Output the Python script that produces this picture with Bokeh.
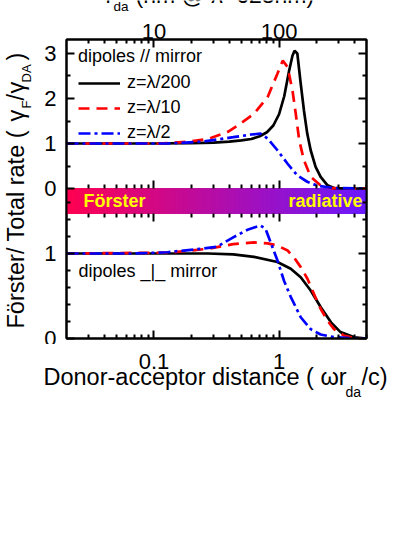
import numpy as np
from bokeh.plotting import figure
from bokeh.layouts import row, column
from bokeh.models import (Range1d, LogAxis, LinearAxis, FixedTicker, CustomJSTickFormatter,
                          Label, Legend, LegendItem, LogScale)
from bokeh.embed import file_html
from bokeh.resources import INLINE

# ---------------- data ----------------
# x = omega * r_da / c ; y = Förster / total rate
# upper panel: dipoles parallel to mirror
par_200_x = [0.02, 0.1, 0.2, 0.3, 0.4, 0.5, 0.6, 0.7, 0.8, 0.9, 1.0, 1.1, 1.2, 1.28, 1.33,
             1.4, 1.49, 1.58, 1.68, 1.79, 1.96, 2.15, 2.44, 2.75, 3.5, 5.0]
par_200_y = [1.0, 1.0, 1.01, 1.02, 1.04, 1.07, 1.1, 1.16, 1.25, 1.4, 1.65, 2.05, 2.6, 2.95, 3.06,
             3.0, 2.33, 1.74, 1.22, 0.85, 0.48, 0.26, 0.07, 0.01, 0.0, 0.0]
par_10_x = [0.02, 0.11, 0.19, 0.27, 0.39, 0.49, 0.63, 0.81, 0.97, 1.07, 1.17, 1.28, 1.36, 1.45,
            1.58, 1.79, 2.15, 2.6, 5.0]
par_10_y = [1.0, 1.0, 1.04, 1.1, 1.26, 1.44, 1.66, 2.03, 2.55, 2.84, 2.7, 2.18, 1.66, 1.07,
            0.63, 0.26, 0.07, 0.01, 0.0]
par_2_x = [0.02, 0.13, 0.24, 0.43, 0.6, 0.71, 0.81, 0.97, 1.17, 1.40, 1.68, 2.04, 2.75, 5.0]
par_2_y = [1.0, 1.0, 1.04, 1.14, 1.2, 1.22, 1.11, 0.85, 0.55, 0.29, 0.15, 0.06, 0.01, 0.0]

# lower panel: dipoles perpendicular to mirror
perp_200_x = [0.02, 0.27, 0.43, 0.63, 0.97, 1.24, 1.49, 1.79, 2.15, 2.6, 3.1, 4.0, 5.0]
perp_200_y = [1.0, 1.0, 0.99, 0.96, 0.9, 0.82, 0.72, 0.565, 0.37, 0.19, 0.075, 0.015, 0.0]
perp_10_x = [0.02, 0.13, 0.27, 0.43, 0.63, 0.81, 0.97, 1.17, 1.31, 1.49, 1.69, 1.9, 2.15,
             2.44, 2.75, 3.3, 4.0, 5.0]
perp_10_y = [1.0, 1.01, 1.055, 1.11, 1.13, 1.12, 1.094, 1.035, 0.957, 0.84, 0.7, 0.525, 0.35,
             0.21, 0.11, 0.035, 0.005, 0.0]
perp_2_x = [0.02, 0.07, 0.128, 0.236, 0.32, 0.43, 0.56, 0.71, 0.78, 0.857, 0.97, 1.095, 1.24,
            1.49, 1.79, 2.15, 2.75, 3.74, 5.0]
perp_2_y = [1.0, 1.0, 1.015, 1.055, 1.08, 1.19, 1.28, 1.33, 1.29, 1.13, 0.92, 0.68, 0.49,
            0.25, 0.11, 0.047, 0.015, 0.003, 0.0]

series_labels = ["z=λ/200", "z=λ/10", "z=λ/2"]

x_major = [0.1, 1.0]
x_minor = [0.03, 0.04, 0.05, 0.06, 0.07, 0.08, 0.09,
           0.2, 0.3, 0.4, 0.5, 0.6, 0.7, 0.8, 0.9, 2.0, 3.0, 4.0, 5.0]
nm_major = [10, 100]
nm_minor = [3, 4, 5, 6, 7, 8, 9, 20, 30, 40, 50, 60, 70, 80, 90, 200, 300, 400, 500]
up_major = [0, 1, 2, 3]
up_minor = [0.5, 1.5, 2.5]
low_major = [0, 1]
low_minor = [0.2, 0.4, 0.6, 0.8, 1.2, 1.4, 1.6]

WAVELENGTH_NM = 628.0

# ---------------- layout constants (page pixels) ----------------
FONT = "Liberation Sans"
X_LO, X_HI = 0.02, 5.0
UP_LO, UP_HI = -3.333, 3.311      # upper panel units over the whole frame
LOW_LO, LOW_HI = 0.0, 3.518       # lower panel units over the whole frame
BAR_BOTTOM = -0.556               # bar spans [BAR_BOTTOM, 0] in upper units
COL_L, COL_W = 38, 358            # left column (y title) width, main column width
FRAME_L, FRAME_W, FRAME_H = 66, 300, 299
TOP_H = 13                        # strip for the top title
MAIN_TOP_BORDER = 26
MAIN_BOTTOM_BORDER = 6
XLAB_Y0 = TOP_H + MAIN_TOP_BORDER + FRAME_H + MAIN_BOTTOM_BORDER
XLAB_H = 70
XLAB_BOTTOM = XLAB_Y0 + XLAB_H


def low_to_up(v):
    return UP_LO + (v - LOW_LO) / (LOW_HI - LOW_LO) * (UP_HI - UP_LO)


def blank_fig(w, h, **kw):
    f = figure(frame_width=w, frame_height=h, min_border=0, toolbar_location=None,
               output_backend="svg", x_axis_location=None, y_axis_location=None, **kw)
    f.frame_align = False
    f.xgrid.visible = False
    f.ygrid.visible = False
    f.outline_line_color = None
    return f


def lab(fig, text, x, y, size, **kw):
    fig.add_layout(Label(x=x, y=y, text=text, text_font=FONT, text_font_size=size,
                         text_color=kw.pop("color", "black"), **kw))


nm_per_unit = WAVELENGTH_NM / (2 * np.pi)

# ---------------- main figure ----------------
p = figure(x_axis_type="log", x_range=Range1d(X_LO, X_HI), y_range=Range1d(UP_LO, UP_HI),
           frame_width=FRAME_W, frame_height=FRAME_H,
           min_border_left=FRAME_L - COL_L, min_border_right=COL_W - (FRAME_L - COL_L) - FRAME_W,
           min_border_top=MAIN_TOP_BORDER, min_border_bottom=MAIN_BOTTOM_BORDER,
           toolbar_location=None, output_backend="svg")
p.frame_align = False
p.extra_y_ranges = {"low": Range1d(LOW_LO, LOW_HI)}
p.extra_x_ranges = {"nm": Range1d(X_LO * nm_per_unit, X_HI * nm_per_unit)}
p.extra_x_scales = {"nm": LogScale()}
p.xgrid.visible = False
p.ygrid.visible = False
p.outline_line_color = "black"
p.outline_line_width = 2

# gradient bar
edges = np.logspace(np.log10(X_LO), np.log10(X_HI), 151)
c0 = np.array([255, 0, 80])
c1 = np.array([105, 25, 255])
t = (np.arange(len(edges) - 1) + 0.5) / (len(edges) - 1)
bar_colors = ["#%02x%02x%02x" % tuple(int(round(v)) for v in (c0 + (c1 - c0) * ti)) for ti in t]
p.quad(left=edges[:-1], right=edges[1:], bottom=BAR_BOTTOM, top=0,
       fill_color=bar_colors, line_color=bar_colors, line_width=1)

# curves
LW = 2.7
styles = [dict(line_color="black"),
          dict(line_color="#ff0000", line_dash="11 7"),
          dict(line_color="#0000ff", line_dash="12 4 3 4")]
upper = [(par_200_x, par_200_y), (par_10_x, par_10_y), (par_2_x, par_2_y)]
lower = [(perp_200_x, perp_200_y), (perp_10_x, perp_10_y), (perp_2_x, perp_2_y)]
rs = []
for (xs, ys), st in zip(upper, styles):
    rs.append(p.line(xs, ys, line_width=LW, **st))
for (xs, ys), st in zip(lower, styles):
    p.line(xs, ys, line_width=LW, y_range_name="low", **st)

legend = Legend(items=[LegendItem(label=l, renderers=[r]) for l, r in zip(series_labels, rs)],
                title="dipoles // mirror", location=(12, 195),
                title_text_font=FONT, title_text_font_size="18px", title_text_font_style="normal",
                title_text_color="black", title_standoff=5,
                label_text_font=FONT, label_text_font_size="18px", label_text_color="black",
                glyph_width=42, glyph_height=20, label_height=20, label_standoff=7,
                spacing=4, padding=0, margin=0,
                border_line_color=None, background_fill_alpha=0)
p.add_layout(legend)

blank_fmt = CustomJSTickFormatter(code="return '';")
str_fmt = CustomJSTickFormatter(code="return String(tick);")


def style_axis(ax, labels=True):
    ax.major_tick_in = 8
    ax.major_tick_out = 0
    ax.minor_tick_in = 4
    ax.minor_tick_out = 0
    ax.major_tick_line_width = 2
    ax.minor_tick_line_width = 2
    ax.major_tick_line_color = "black"
    ax.minor_tick_line_color = "black"
    ax.axis_line_width = 2
    ax.axis_line_color = "black"
    ax.major_label_text_font = FONT
    ax.major_label_text_color = "black"
    if labels:
        ax.major_label_text_font_size = "22px"
    else:
        ax.formatter = blank_fmt
        ax.major_label_text_font_size = "1px"
        ax.major_label_standoff = 0


bx = p.xaxis[0]
bx.ticker = FixedTicker(ticks=x_major, minor_ticks=x_minor)
style_axis(bx, labels=False)

top = LogAxis(x_range_name="nm", ticker=FixedTicker(ticks=nm_major, minor_ticks=nm_minor),
              formatter=str_fmt)
style_axis(top)
top.major_label_standoff = 1
p.add_layout(top, "above")

y_ticks = list(up_major) + [low_to_up(v) for v in low_major]
y_labels = [str(v) for v in up_major] + [str(v) for v in low_major]
y_minor = list(up_minor) + [low_to_up(v) for v in low_minor]
ly = p.yaxis[0]
ly.ticker = FixedTicker(ticks=y_ticks, minor_ticks=y_minor)
ly.formatter = CustomJSTickFormatter(args=dict(tv=y_ticks, tl=y_labels), code="""
for (let i = 0; i < tv.length; i++) { if (Math.abs(tv[i] - tick) < 1e-6) return tl[i]; }
return "";
""")
style_axis(ly)
ly.major_label_standoff = 10

ry = LinearAxis(ticker=FixedTicker(ticks=y_ticks, minor_ticks=y_minor))
style_axis(ry, labels=False)
p.add_layout(ry, "right")

# inner tick rows at the edges of the bar
mid_up = LogAxis(ticker=FixedTicker(ticks=x_major, minor_ticks=x_minor), fixed_location=0)
style_axis(mid_up, labels=False)
mid_up.axis_line_color = None
p.add_layout(mid_up, "below")
mid_low = LogAxis(ticker=FixedTicker(ticks=x_major, minor_ticks=x_minor), fixed_location=BAR_BOTTOM)
style_axis(mid_low, labels=False)
mid_low.axis_line_color = None
p.add_layout(mid_low, "above")

# texts inside the frame (screen units relative to the frame)
IN = dict(x_units="screen", y_units="screen", text_font=FONT, text_font_size="18px",
          text_baseline="middle")
p.add_layout(Label(x=12, y=68, text="dipoles _|_ mirror", text_color="black", **IN))
p.add_layout(Label(x=17, y=137.5, text="Förster", text_font_style="bold",
                   text_color="#ffff00", **IN))
p.add_layout(Label(x=296, y=137.5, text="radiative", text_align="right", text_font_style="bold",
                   text_color="#ffff00", **IN))

# ---------------- top title strip (data units = page pixels) ----------------
topf = blank_fig(COL_W, TOP_H, x_range=Range1d(COL_L, COL_L + COL_W), y_range=Range1d(TOP_H, 0))
lab(topf, "r", 105, 7, "23px")
lab(topf, "da", 113, 13, "13.5px")
lab(topf, "(nm @ λ=628nm)", 135, 7, "23px")

# ---------------- bottom strip: tick labels and x title ----------------
# y data of this strip = distance (px) above its bottom edge
dec = np.log10(X_HI / X_LO) / FRAME_W
xl_lo = 10 ** (np.log10(X_LO) - (FRAME_L - COL_L) * dec)
xl_hi = 10 ** (np.log10(X_HI) + (COL_L + COL_W - FRAME_L - FRAME_W) * dec)
xlab = blank_fig(COL_W, XLAB_H, x_axis_type="log", x_range=Range1d(xl_lo, xl_hi),
                 y_range=Range1d(0, XLAB_H))
xt = LogAxis(ticker=FixedTicker(ticks=x_major, minor_ticks=[]), formatter=str_fmt,
             fixed_location=XLAB_BOTTOM - 353)
xt.major_tick_in = 0
xt.major_tick_out = 0
xt.minor_tick_in = 0
xt.minor_tick_out = 0
xt.axis_line_color = None
xt.major_label_standoff = 0
xt.major_label_text_font = FONT
xt.major_label_text_font_size = "22px"
xt.major_label_text_color = "black"
xlab.add_layout(xt, "below")
XS = dict(x_units="screen")
lab(xlab, "Donor-acceptor distance ( ωr", 43 - COL_L, XLAB_BOTTOM - 389, "23.5px", **XS)
lab(xlab, "da", 345 - COL_L, XLAB_BOTTOM - 399, "14px", **XS)
lab(xlab, "/c)", 361 - COL_L, XLAB_BOTTOM - 389, "23.5px", **XS)

# ---------------- left strip: rotated y title (data units = page pixels) ----------------
YL_H = 420
ylab = blank_fig(COL_L, YL_H, x_range=Range1d(0, COL_L), y_range=Range1d(YL_H, 0))
A = np.pi / 2
lab(ylab, "Förster/ Total rate (", 28, 328, "23.5px", angle=A)
lab(ylab, "γ", 28, 121, "23.5px", angle=A)
lab(ylab, "F", 33, 108, "13px", angle=A)
lab(ylab, "/", 28, 100, "23.5px", angle=A)
lab(ylab, "γ", 28, 93, "23.5px", angle=A)
lab(ylab, "DA", 33, 82, "13px", angle=A)
lab(ylab, ")", 28, 60, "23.5px", angle=A)

layout = row(ylab, column(topf, p, xlab))
open("out.html", "w").write(file_html(layout, INLINE))
